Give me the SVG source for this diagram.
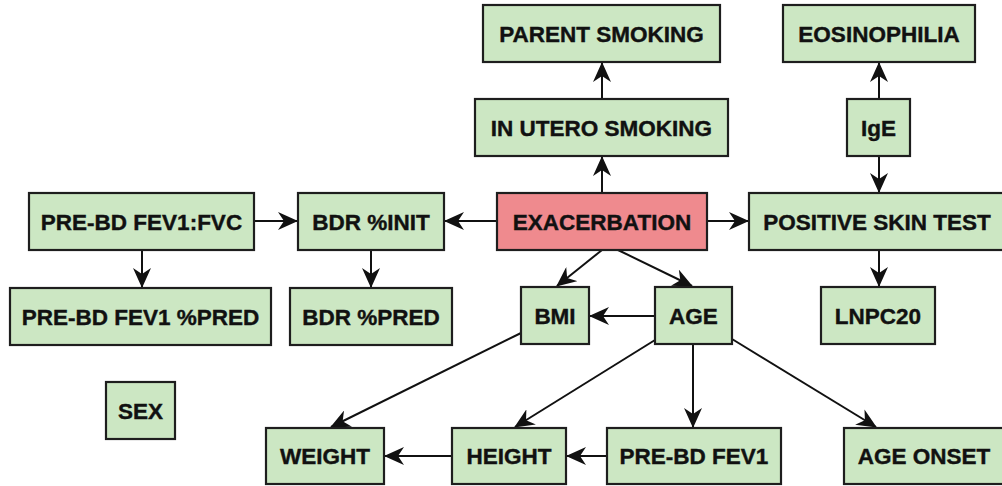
<svg xmlns="http://www.w3.org/2000/svg" width="1002" height="486" viewBox="0 0 1002 486">
<style>
.n rect{fill:#cce7c3;stroke:#1e1e1e;stroke-width:2.2}
.n.red rect{fill:#ef8a8e}
.n text{font-family:"Liberation Sans",Arial,sans-serif;font-weight:bold;font-size:22.5px;fill:#111;stroke:#111;stroke-width:0.4;text-anchor:middle}
#edges line{stroke:#111;stroke-width:2;marker-end:url(#ah)}
</style>
<defs>
<marker id="ah" viewBox="0 0 20 18" refX="19" refY="9" markerWidth="20" markerHeight="18" markerUnits="userSpaceOnUse" orient="auto">
<path d="M0,0 L20,9 L0,18 L6,9 z" fill="#111"/>
</marker>
</defs>
<rect width="1002" height="486" fill="#fff"/>
<g id="edges">
<line x1="254" y1="221" x2="297" y2="221"/>
<line x1="497" y1="221" x2="445" y2="221"/>
<line x1="142" y1="250" x2="142" y2="287"/>
<line x1="371" y1="250" x2="371" y2="287"/>
<line x1="602" y1="193" x2="602" y2="157"/>
<line x1="602" y1="99" x2="602" y2="63"/>
<line x1="707" y1="221" x2="748" y2="221"/>
<line x1="879" y1="99" x2="879" y2="63"/>
<line x1="879" y1="156" x2="879" y2="192"/>
<line x1="879" y1="250" x2="879" y2="286"/>
<line x1="602" y1="250" x2="557" y2="286"/>
<line x1="618" y1="250" x2="692" y2="286"/>
<line x1="655" y1="316" x2="590" y2="316"/>
<line x1="521" y1="333" x2="331" y2="427"/>
<line x1="655" y1="340" x2="515" y2="427"/>
<line x1="693" y1="344" x2="693" y2="427"/>
<line x1="732" y1="339" x2="876" y2="427"/>
<line x1="452" y1="456" x2="385" y2="456"/>
<line x1="607" y1="456" x2="567" y2="456"/>
</g>
<g id="parent-smoking" class="n"><rect x="483" y="5" width="237" height="57"/><text x="601.5" y="41.5">PARENT SMOKING</text></g>
<g id="eosinophilia" class="n"><rect x="783" y="5" width="192" height="57"/><text x="879" y="41.5">EOSINOPHILIA</text></g>
<g id="in-utero-smoking" class="n"><rect x="475" y="99" width="253" height="57"/><text x="601.5" y="135.5">IN UTERO SMOKING</text></g>
<g id="ige" class="n"><rect x="847" y="99" width="63" height="57"/><text x="878.5" y="135.5">IgE</text></g>
<g id="pre-bd-fev1-fvc" class="n"><rect x="29" y="193" width="225" height="57"/><text x="141.5" y="229.5">PRE-BD FEV1:FVC</text></g>
<g id="bdr-init" class="n"><rect x="298" y="193" width="146" height="57"/><text x="371" y="229.5">BDR %INIT</text></g>
<g id="exacerbation" class="n red"><rect x="497" y="193" width="210" height="57"/><text x="602" y="229.5">EXACERBATION</text></g>
<g id="positive-skin-test" class="n"><rect x="749" y="193" width="256" height="57"/><text x="877" y="229.5">POSITIVE SKIN TEST</text></g>
<g id="pre-bd-fev1-pred" class="n"><rect x="10" y="288" width="261" height="57"/><text x="140.5" y="324.5">PRE-BD FEV1 %PRED</text></g>
<g id="bdr-pred" class="n"><rect x="290" y="288" width="162" height="57"/><text x="371" y="324.5">BDR %PRED</text></g>
<g id="bmi" class="n"><rect x="521" y="287" width="68" height="57"/><text x="555" y="323.5">BMI</text></g>
<g id="age" class="n"><rect x="655" y="287" width="77" height="57"/><text x="693.5" y="323.5">AGE</text></g>
<g id="lnpc20" class="n"><rect x="821" y="287" width="114" height="57"/><text x="878" y="323.5">LNPC20</text></g>
<g id="sex" class="n"><rect x="106" y="382" width="69" height="57"/><text x="140.5" y="418.5">SEX</text></g>
<g id="weight" class="n"><rect x="266" y="428" width="118" height="56"/><text x="325" y="464">WEIGHT</text></g>
<g id="height" class="n"><rect x="452" y="428" width="114" height="56"/><text x="509" y="464">HEIGHT</text></g>
<g id="pre-bd-fev1" class="n"><rect x="607" y="428" width="174" height="56"/><text x="694" y="464">PRE-BD FEV1</text></g>
<g id="age-onset" class="n"><rect x="844" y="428" width="160" height="56"/><text x="924" y="464">AGE ONSET</text></g>
</svg>
